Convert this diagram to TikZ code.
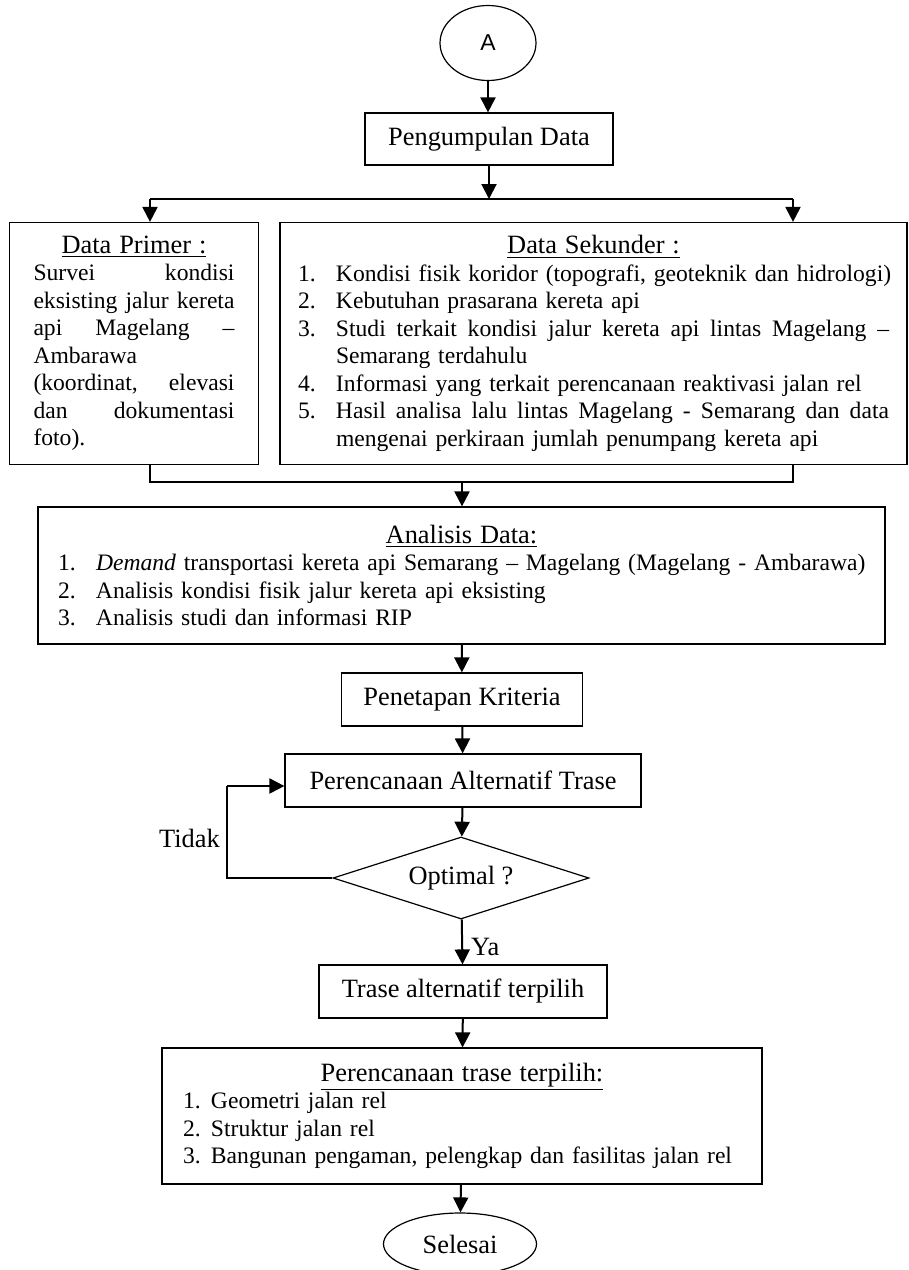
\documentclass[tikz,border=0pt]{standalone}
\usepackage{fontspec}
\setmainfont{Liberation Serif}
\newfontfamily\arialfont{Liberation Sans}
\usetikzlibrary{shapes.geometric,arrows.meta}
\newcommand{\judul}[2]{\makebox[#1]{\fontsize{13.2}{13.75}\selectfont\underline{#2}}}
\newcommand{\butir}[3][19pt]{\makebox[#1][l]{#2}\mbox{#3}}
\newcommand{\rata}[2]{\leavevmode\hbox to #1{\spaceskip=3pt plus 1fil\relax #2}}

\begin{document}
\begin{tikzpicture}[
    x=0.5pt, y=-0.5pt,
    font=\fontsize{13.2}{15}\selectfont,
    box/.style={rectangle, draw, line width=0.6pt, inner sep=0pt},
    listbox/.style={box, font=\fontsize{11.8}{13.75}\selectfont, align=left},
    oval/.style={ellipse, draw, line width=0.6pt, inner sep=0pt},
    decision/.style={diamond, draw, line width=0.6pt, inner sep=0pt, aspect=3},
    arr/.style={-{Triangle[width=7.5pt,length=7.5pt]}, line width=1pt},
    garis/.style={line width=0.6pt}
]
    \useasboundingbox (0,0) rectangle (909,1270);

    \node[oval, minimum width=48pt, minimum height=37.5pt, font=\arialfont\fontsize{11.5}{13}\selectfont] (A) at (488,43) {A};
    \node[box, minimum width=124pt, minimum height=26pt] (kumpul) at (489,139) {Pengumpulan Data};

    \node[listbox, minimum width=124.5pt, minimum height=121pt, text width=100.5pt] (primer) at (134,343.5) {%
        \judul{100.5pt}{Data Primer :}\\
        \rata{100.5pt}{Survei kondisi}\\
        \rata{100.5pt}{eksisting jalur kereta}\\
        \rata{100.5pt}{api Magelang –}\\
        Ambarawa\\
        \rata{100.5pt}{(koordinat, elevasi}\\
        \rata{100.5pt}{dan dokumentasi}\\
        foto).};

    \node[listbox, minimum width=313.5pt, minimum height=121pt, text width=295.5pt] (sekunder) at (593.5,343.5) {%
        \judul{295.5pt}{Data Sekunder :}\\
        \butir{1.}{Kondisi fisik koridor (topografi, geoteknik dan hidrologi)}\\
        \butir{2.}{Kebutuhan prasarana kereta api}\\
        \butir{3.}{\rata{276.5pt}{Studi terkait kondisi jalur kereta api lintas Magelang –}}\\
        \butir{}{Semarang terdahulu}\\
        \butir{4.}{Informasi yang terkait perencanaan reaktivasi jalan rel}\\
        \butir{5.}{\rata{276.5pt}{Hasil analisa lalu lintas Magelang - Semarang dan data}}\\
        \butir{}{mengenai perkiraan jumlah penumpang kereta api}};

    \node[listbox, minimum width=423.5pt, minimum height=68.5pt, text width=403.5pt] (analisis) at (461.5,575.5) {%
        \judul{403.5pt}{Analisis Data:}\\
        \butir{1.}{\textit{Demand} transportasi kereta api Semarang – Magelang (Magelang - Ambarawa)}\\
        \butir{2.}{Analisis kondisi fisik jalur kereta api eksisting}\\
        \butir{3.}{Analisis studi dan informasi RIP}};

    \node[box, minimum width=120.5pt, minimum height=26.5pt] (kriteria) at (462,699.5) {Penetapan Kriteria};
    \node[box, minimum width=178pt, minimum height=26.5pt] (alt) at (463,780.5) {Perencanaan Alternatif Trase};
    \node[decision, minimum width=128pt, minimum height=41pt] (optimal) at (461,878) {Optimal ?};
    \node[box, minimum width=144pt, minimum height=26.5pt] (pilih) at (463,991.5) {Trase alternatif terpilih};

    \node[listbox, minimum width=300pt, minimum height=68pt, text width=279pt] (rencana) at (462,1116) {%
        \judul{279pt}{Perencanaan trase terpilih:}\\
        \butir[14pt]{1.}{Geometri jalan rel}\\
        \butir[14pt]{2.}{Struktur jalan rel}\\
        \butir[14pt]{3.}{Bangunan pengaman, pelengkap dan fasilitas jalan rel}};

    \node[oval, minimum width=76.5pt, minimum height=31pt] (selesai) at (460,1244) {Selesai};

    % percabangan data primer / sekunder
    \coordinate (cabTengah) at (489,199);
    \coordinate (cabKiri) at (150,199);
    \coordinate (cabKanan) at (793,199);
    \coordinate (gabKiri) at (150,482);
    \coordinate (gabKanan) at (793,482);
    \coordinate (gabTengah) at (462,482);

    \draw[arr] (A.south) -- (A.south |- kumpul.north);
    \draw[arr] (kumpul) -- (cabTengah);
    \draw[garis] (cabKiri) -- (cabKanan);
    \draw[arr] (cabKiri) -- (cabKiri |- primer.north);
    \draw[arr] (cabKanan) -- (cabKanan |- sekunder.north);
    \draw[garis] (gabKiri |- primer.south) -- (gabKiri) -- (gabKanan) -- (gabKanan |- sekunder.south);
    \draw[arr] (gabTengah) -- (gabTengah |- analisis.north);

    \draw[arr] (analisis) -- (kriteria);
    \draw[arr] (kriteria) -- (alt);
    \draw[arr] (alt) -- (optimal);
    \draw[arr] (optimal) -- node[right, yshift=-2.5pt, inner sep=4pt] {Ya} (pilih);
    \draw[arr] (pilih) -- (rencana);
    \draw[arr] (rencana) -- (selesai);

    % kembali jika tidak optimal
    \coordinate (balikBawah) at (227,878);
    \coordinate (balikAtas) at (227,786);
    \draw[garis] (optimal.west) -- (balikBawah) -- node[left, yshift=-3pt] {Tidak} (balikAtas);
    \draw[arr] (balikAtas) -- (balikAtas -| alt.west);
\end{tikzpicture}
\end{document}
